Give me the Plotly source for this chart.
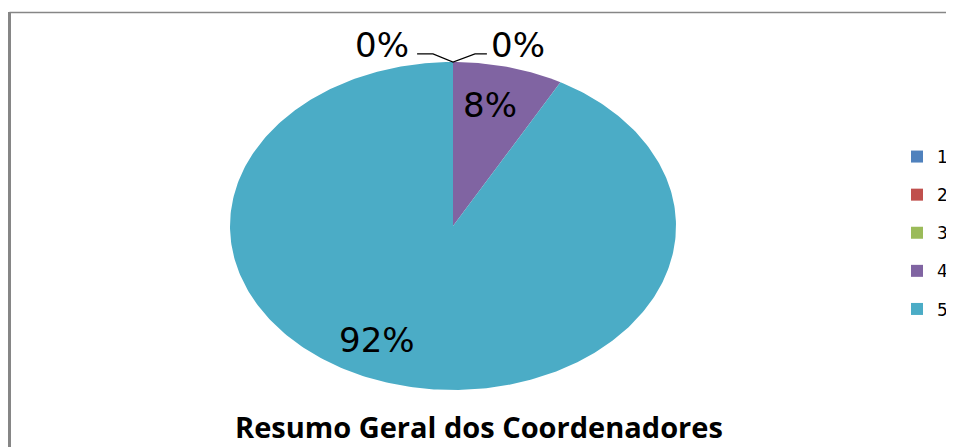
import numpy as np
import plotly.graph_objects as go

categories = ["1", "2", "3", "4", "5"]
percentages = [0, 0, 0, 8, 92]
colors = ["#4F81BD", "#C0504D", "#9BBB59", "#8064A2", "#4BACC6"]
title_text = "Resumo Geral dos Coordenadores"

# label anchor points (unit-ellipse coordinates) for each slice label
label_pos = {
    "1": (-0.318, 1.104),
    "3": (0.291, 1.104),
    "4": (0.166, 0.738),
    "5": (-0.341, -0.695),
}

W, H = 946, 439  # page body has an 8px margin
Y_TOP = 1.3      # room above the ellipse for the outside labels

fig = go.Figure()

total = sum(percentages)
start = 0.0
for cat, val, col in zip(categories, percentages, colors):
    frac = val / total
    if frac > 0:
        n = max(3, int(400 * frac))
        th = np.linspace(start * 2 * np.pi, (start + frac) * 2 * np.pi, n)
        xs = np.concatenate([[0], np.sin(th), [0]])
        ys = np.concatenate([[0], np.cos(th), [0]])
        fig.add_trace(go.Scatter(x=xs, y=ys, mode="lines", fill="toself",
                                 fillcolor=col, line=dict(width=0, color=col),
                                 hoverinfo="skip", showlegend=False))
    start += frac
    # legend entry
    fig.add_trace(go.Scatter(x=[None], y=[None], mode="markers", name=cat,
                             legendgroup=cat,
                             marker=dict(symbol="square", size=12, color=col)))

for cat, val in zip(categories, percentages):
    if cat in label_pos:
        lx, ly = label_pos[cat]
        fig.add_annotation(x=lx, y=ly, xref="x", yref="y", text=f"{val}%",
                           showarrow=False,
                           font=dict(family="DejaVu Sans", size=34, color="#000000"))

# leader lines for the 0% labels
fig.add_shape(type="path", xref="x", yref="y",
              path="M -0.161 1.049 L -0.0897 1.049 L 0 1.0 L 0.0987 1.049 L 0.152 1.049",
              line=dict(color="#000000", width=1.2))

# title
fig.add_annotation(x=470.5 / W, y=(H - 418) / H, xref="paper", yref="paper",
                   text=f"<b>{title_text}</b>", showarrow=False, yanchor="middle",
                   font=dict(family="Open Sans", size=29, color="#000000"))

# chart border lines
fig.add_shape(type="line", xref="paper", yref="paper", x0=1.5 / W, x1=1,
              y0=1 - 4.5 / H, y1=1 - 4.5 / H, line=dict(color="#868686", width=1.5))
fig.add_shape(type="line", xref="paper", yref="paper", x0=1.5 / W, x1=1.5 / W,
              y0=0, y1=1 - 4 / H, line=dict(color="#868686", width=3))

ry_px = (382 - 54) / 2.0
top_px = 54 - (Y_TOP - 1) * ry_px

fig.update_layout(
    width=W, height=H,
    margin=dict(l=0, r=0, t=0, b=0),
    paper_bgcolor="white", plot_bgcolor="white",
    xaxis=dict(domain=[222 / W, 668 / W], range=[-1, 1], visible=False, fixedrange=True),
    yaxis=dict(domain=[(H - 382) / H, (H - top_px) / H], range=[-1, Y_TOP],
               visible=False, fixedrange=True),
    legend=dict(x=889 / W, y=(H - 225) / H, xanchor="left", yanchor="middle",
                font=dict(family="DejaVu Sans", size=17, color="#000000"),
                tracegroupgap=13, bgcolor="rgba(0,0,0,0)"),
    showlegend=True,
)

fig.write_html("out.html")
